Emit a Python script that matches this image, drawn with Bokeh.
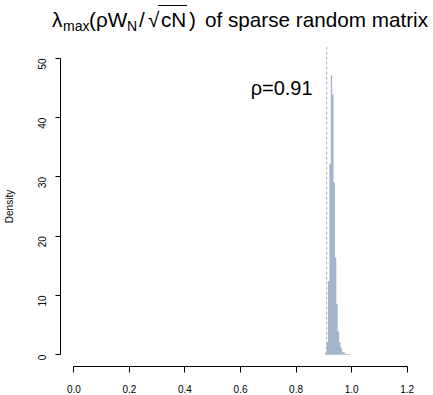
import math
from bokeh.plotting import figure
from bokeh.layouts import column
from bokeh.models import Label, FixedTicker, Div
from bokeh.embed import file_html
from bokeh.resources import INLINE

# ---- data ----
bin_edges = [0.905, 0.910, 0.915, 0.920, 0.925, 0.930, 0.935, 0.940, 0.945,
             0.950, 0.955, 0.960, 0.965, 0.970, 0.975, 0.980, 0.985, 0.990,
             0.995]
density = [0.3, 2.1, 12.4, 32.2, 47.1, 43.9, 29.1, 16.4, 8.6,
           3.9, 2.1, 1.2, 0.4, 0.4, 0.1, 0.1, 0.1, 0.1]
rho = 0.91
rho_label = "ρ=0.91"
x_ticks = [0.0, 0.2, 0.4, 0.6, 0.8, 1.0, 1.2]
x_tick_labels = ["0.0", "0.2", "0.4", "0.6", "0.8", "1.0", "1.2"]
y_ticks = [0, 10, 20, 30, 40, 50]

FONT = "Liberation Sans"
W, TOP = 433, 46

# ---------------- title strip (HTML text) ----------------
pieces = [
    ("λ", 52, 9.5, 20.7),
    ("max", 63, 19, 14),
    ("(ρW", 89, 9.5, 20.7),
    ("N", 127, 19, 14),
    ("/", 139, 9.5, 20.7),
    ("√", 148, 9.5, 20.7),
    ("cN", 161, 9.5, 20.7),
    (")", 189, 9.5, 20.7),
    ("of sparse random matrix", 205, 9.5, 20.7),
]
spans = "".join(
    f'<span style="position:absolute;left:{x}px;top:{y}px;font-size:{fs}px;'
    f'line-height:1;white-space:nowrap;">{txt}</span>'
    for txt, x, y, fs in pieces)
overbar = ('<div style="position:absolute;left:158px;top:5px;width:29px;'
           'height:1.2px;background:black;"></div>')
title_html = (f'<div style="position:relative;width:{W}px;height:{TOP}px;'
              f"font-family:'{FONT}';color:black;\">{spans}{overbar}</div>")
title = Div(text=title_html, width=W, height=TOP, margin=(0, 0, 0, 0))

# ---------------- main plot ----------------
p = figure(frame_width=360, frame_height=320,
           x_range=(-0.048, 1.248), y_range=(-2, 52),
           output_backend="svg", toolbar_location=None,
           min_border_left=60, min_border_right=13,
           min_border_top=0, min_border_bottom=29,
           background_fill_color="white", border_fill_color="white")
p.outline_line_color = None
p.grid.visible = False

# histogram as one step area
p.varea_step(x=bin_edges, y1=[0] * len(bin_edges), y2=density + [0],
             step_mode="after", fill_color="#A2B5CD")

# dashed reference line
p.segment(x0=[rho], y0=[0], x1=[rho], y1=[52], line_color="#B0B0B0",
          line_dash="3 2", line_width=1)

p.add_layout(Label(x=rho, y=45, x_offset=-14, text=rho_label,
                   text_align="right", text_baseline="middle",
                   text_font=FONT, text_font_size="20px", text_color="black"))

# axes
xa = p.xaxis[0]
xa.ticker = FixedTicker(ticks=x_ticks)
xa.major_label_overrides = {tk: lb for tk, lb in zip(x_ticks, x_tick_labels)}
xa.bounds = (0, 1.2)
xa.minor_tick_line_color = None
xa.major_tick_out = 6
xa.major_tick_in = 0
xa.major_label_standoff = 12
xa.major_label_text_font = FONT
xa.major_label_text_font_size = "10px"
xa.major_label_text_color = "black"
xa.axis_line_color = "black"
xa.major_tick_line_color = "black"

ya = p.yaxis[0]
ya.ticker = FixedTicker(ticks=y_ticks)
ya.bounds = (0, 50)
ya.minor_tick_line_color = None
ya.major_tick_out = 5
ya.major_tick_in = 0
ya.major_label_standoff = 13
ya.major_label_orientation = math.pi / 2
ya.major_label_text_font = FONT
ya.major_label_text_font_size = "10px"
ya.major_label_text_color = "black"
ya.axis_label = "Density"
ya.axis_label_text_font = FONT
ya.axis_label_text_font_size = "10px"
ya.axis_label_text_font_style = "normal"
ya.axis_label_text_color = "black"
ya.axis_label_standoff = 17
ya.axis_line_color = "black"
ya.major_tick_line_color = "black"

layout = column(title, p, spacing=0)
open("out.html", "w").write(file_html(layout, INLINE))
